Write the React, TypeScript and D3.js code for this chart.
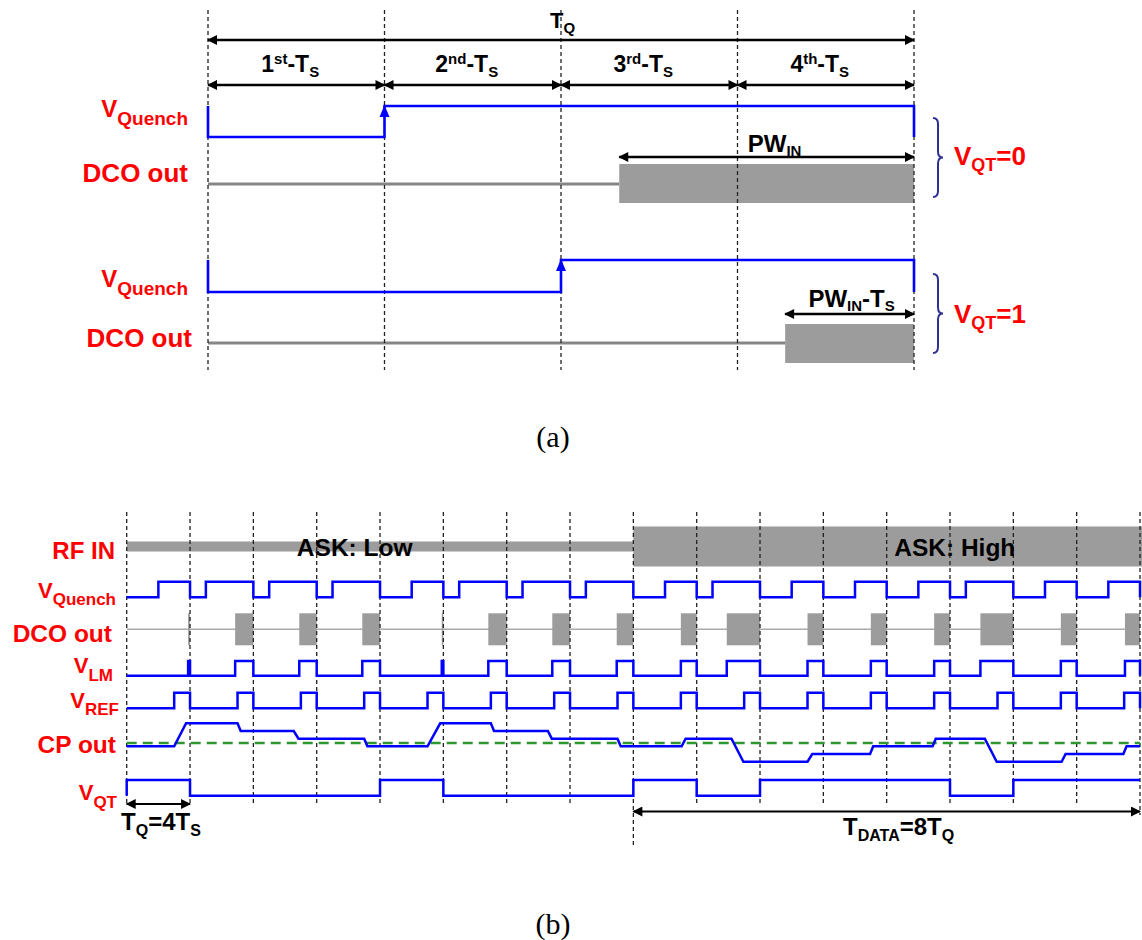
import React from 'react';
import * as d3 from 'd3';

// ---------------- DATA ----------------
// Part (a): one quench period T_Q = 4 T_S
const TS_ORDINALS = ['1', '2', '3', '4'];
const TS_SUFFIX = ['st', 'nd', 'rd', 'th'];
const A_QUENCH_RISE = [1, 2]; // T_S index at which V_Quench rises
const A_DCO_START = [2.33, 3.27]; // DCO oscillation start (T_S units)
const A_VQT = ['0', '1'];

// Part (b): 16 quench periods, time in T_S units (4 per period)
const B_VQT = [1, 0, 0, 0, 1, 0, 0, 0, 1, 0, 1, 1, 1, 0, 1, 1];
const B_QUENCH_LOW = [2, 1, 1, 1, 2, 1, 1, 1, 2, 1, 2, 2, 2, 1, 2, 2];
const B_DCO_WIDTH = [0.12, 1.15, 1.1, 1.12, 0.1, 1.16, 1.12, 1.05, 1.0, 2.1, 1.0, 1.0, 1.0, 2.08, 1.0, 0.95];
const B_VREF_WIDTH = [1, 1, 1, 1, 1, 1, 1, 1, 1, 1, 1, 1, 1, 1, 1, 1];
const B_ASK_LABEL = ['ASK: Low', 'ASK: High'];
const B_ASK_START = [0, 32];
const B_ASK_END = [32, 64];
const B_ASK_AMP = [0.25, 1];
const CP_T = [0, 3, 3.75, 7, 7.2, 10.55, 10.85, 15, 15.2, 19, 19.8, 23, 23.2, 26.6, 26.85, 31, 31.2, 35.05, 35.3, 38.2, 38.95, 43, 43.3, 46.95, 47.15, 50.9, 51.1, 54.2, 54.95, 59.05, 59.3, 62.95, 63.15, 64];
const CP_LEVEL = [0, 0, 3, 3, 2, 2, 1, 1, 0, 0, 3, 3, 2, 2, 1, 1, 0, 0, 1, 1, -2, -2, -1, -1, 0, 0, 1, 1, -2, -2, -1, -1, 0, 0];
const CP_REF = 0.45;

// ---------------- STYLE / LAYOUT ----------------
const W = 1142;
const H = 940;
const BLUE = '#0000ff';
const RED = '#ff0000';
const GRAY = '#9c9c9c';
const SANS = "Arial, 'Liberation Sans', Helvetica, sans-serif";
const SERIF = "'Times New Roman', 'Liberation Serif', serif";

const A_ROWS = [
  { qHi: 106, qLo: 137, dco: 184, blkTop: 164, blkBot: 203, arrow: 157, braceTop: 118, braceBot: 197, labQ: 117, labD: 182, labDx: 188, vqtY: 165, pwDx: 8, pwDy: -5 },
  { qHi: 260, qLo: 292, dco: 343, blkTop: 324, blkBot: 363, arrow: 314, braceTop: 274, braceBot: 353, labQ: 287, labD: 347, labDx: 192, vqtY: 323, pwDx: 2, pwDy: -7 },
];

const xA = d3.scaleLinear().domain([0, 4]).range([208, 914]);
const xB = d3.scaleLinear().domain([0, 64]).range([126.7, 1140]);
const yCP = d3.scaleLinear().domain([-2, 3]).range([761.7, 723.3]);

const RB = {
  rfMid: 546.5, rfHalf: 20,
  qHi: 581.7, qLo: 597.3,
  dcoMid: 629.3, dcoHalf: 16,
  lmHi: 661, lmLo: 675.7,
  refHi: 692.7, refLo: 708.3,
  qtHi: 780, qtLo: 795.7,
};

type Part = [string, number]; // 0 normal, 1 sub, 2 sup

function RT(props: {
  x: number; y: number; parts: Part[]; size: number; small: number;
  anchor?: string; fill?: string; subDy?: number; supDy?: number; family?: string; weight?: string;
}) {
  const { x, y, parts, size, small, anchor = 'start', fill = '#000', subDy = 6, supDy = -9, family = SANS, weight = 'bold' } = props;
  let cur = 0;
  return (
    <text x={x} y={y} textAnchor={anchor} fill={fill} fontFamily={family} fontWeight={weight} fontSize={size}>
      {parts.map((p, i) => {
        const target = p[1] === 1 ? subDy : p[1] === 2 ? supDy : 0;
        const dy = target - cur;
        cur = target;
        return (
          <tspan key={i} dy={dy} fontSize={p[1] ? small : size}>
            {p[0]}
          </tspan>
        );
      })}
    </text>
  );
}

function brace(x: number, top: number, bot: number) {
  const mid = (top + bot) / 2;
  const w = 10;
  const xm = x + w / 2;
  return `M${x},${top} Q${xm},${top} ${xm},${top + 6} L${xm},${mid - 6} Q${xm},${mid} ${x + w},${mid} Q${xm},${mid} ${xm},${mid + 6} L${xm},${bot - 6} Q${xm},${bot} ${x},${bot}`;
}

export default function App() {
  const lineA = d3.line<[number, number]>().x((d) => xA(d[0])).y((d) => d[1]);
  const lineB = d3.line<[number, number]>().x((d) => xB(d[0])).y((d) => d[1]);

  // Part (b) waveforms
  const quenchPts: [number, number][] = [];
  const lmPts: [number, number][] = [];
  const refPts: [number, number][] = [];
  const qtPts: [number, number][] = [[0, RB.qtLo]];
  B_QUENCH_LOW.forEach((q, k) => {
    const t0 = 4 * k;
    quenchPts.push([t0, RB.qLo], [t0 + q, RB.qLo], [t0 + q, RB.qHi], [t0 + 4, RB.qHi], [t0 + 4, RB.qLo]);
    const w = B_DCO_WIDTH[k];
    lmPts.push([t0, RB.lmLo], [t0 + 4 - w, RB.lmLo], [t0 + 4 - w, RB.lmHi], [t0 + 4, RB.lmHi], [t0 + 4, RB.lmLo]);
    const r = B_VREF_WIDTH[k];
    refPts.push([t0, RB.refLo], [t0 + 4 - r, RB.refLo], [t0 + 4 - r, RB.refHi], [t0 + 4, RB.refHi], [t0 + 4, RB.refLo]);
    const lv = B_VQT[k] ? RB.qtHi : RB.qtLo;
    qtPts.push([t0, lv], [t0 + 4, lv]);
  });
  const cpPts: [number, number][] = CP_T.map((t, i) => [t, yCP(CP_LEVEL[i])]);

  const periodsB = d3.range(0, 17);
  const askLabelAt = [14.4, 52.3];

  return (
    <svg width={W} height={H} style={{ position: 'absolute', left: 0, top: 0, background: '#fff' }}>
      <defs>
        <marker id="ah" viewBox="0 0 10 10" refX="9" refY="5" markerWidth="11" markerHeight="10" markerUnits="userSpaceOnUse" orient="auto-start-reverse">
          <path d="M0,0 L10,5 L0,10 z" fill="#000" />
        </marker>
      </defs>
      <rect x={0} y={0} width={W} height={H} fill="#fff" />

      {/* ================= PART (a) ================= */}
      {A_ROWS.map((r, c) => (
        <g key={'blk' + c}>
          <line x1={xA(0)} x2={xA(A_DCO_START[c])} y1={r.dco} y2={r.dco} stroke="#858585" strokeWidth={3} />
          <rect x={xA(A_DCO_START[c])} y={r.blkTop} width={xA(4) - xA(A_DCO_START[c])} height={r.blkBot - r.blkTop} fill={GRAY} />
        </g>
      ))}
      {d3.range(0, 5).map((i) => (
        <line key={'da' + i} x1={xA(i)} x2={xA(i)} y1={10} y2={370} stroke="#222" strokeWidth={1.3} strokeDasharray="4,3" />
      ))}
      {/* T_Q arrow */}
      <line x1={xA(0)} x2={xA(4)} y1={40} y2={40} stroke="#000" strokeWidth={2.5} markerStart="url(#ah)" markerEnd="url(#ah)" />
      <RT x={550} y={28} parts={[['T', 0], ['Q', 1]]} size={22} small={15} subDy={5} />
      {/* T_S arrows */}
      {TS_ORDINALS.map((o, i) => (
        <g key={'ts' + i}>
          <line x1={xA(i)} x2={xA(i + 1)} y1={85} y2={85} stroke="#000" strokeWidth={2.5} markerStart="url(#ah)" markerEnd="url(#ah)" />
          <RT
            x={(xA(i) + xA(i + 1)) / 2 - 6}
            y={72}
            anchor="middle"
            parts={[[o, 0], [TS_SUFFIX[i], 2], ['-T', 0], ['S', 1]]}
            size={23}
            small={15}
            subDy={5}
            supDy={-8}
          />
        </g>
      ))}
      {A_ROWS.map((r, c) => {
        const rise = A_QUENCH_RISE[c];
        const pts: [number, number][] = [[0, r.qHi], [0, r.qLo], [rise, r.qLo], [rise, r.qHi], [4, r.qHi], [4, r.qLo]];
        const ax = xA(rise);
        const s = xA(A_DCO_START[c]);
        const e = xA(4);
        return (
          <g key={'case' + c}>
            <path d={lineA(pts) || ''} fill="none" stroke={BLUE} strokeWidth={2.6} />
            <polygon points={`${ax},${r.qHi - 1} ${ax - 5},${r.qHi + 11} ${ax + 5},${r.qHi + 11}`} fill={BLUE} />
            <line x1={s} x2={e} y1={r.arrow} y2={r.arrow} stroke="#000" strokeWidth={2.5} markerStart="url(#ah)" markerEnd="url(#ah)" />
            <RT
              x={(s + e) / 2 + r.pwDx}
              y={r.arrow + r.pwDy}
              anchor="middle"
              parts={c === 0 ? [['PW', 0], ['IN', 1]] : [['PW', 0], ['IN', 1], ['-T', 0], ['S', 1]]}
              size={24}
              small={15}
              subDy={4}
            />
            <RT x={188} y={r.labQ} anchor="end" fill={RED} parts={[['V', 0], ['Quench', 1]]} size={24} small={19} subDy={8} />
            <text x={r.labDx} y={r.labD} textAnchor="end" fill={RED} fontFamily={SANS} fontWeight="bold" fontSize={26}>
              DCO out
            </text>
            <path d={brace(933, r.braceTop, r.braceBot)} fill="none" stroke="#2e3192" strokeWidth={2} />
            <RT x={954} y={r.vqtY} fill={RED} parts={[['V', 0], ['QT', 1], ['=' + A_VQT[c], 0]]} size={26} small={18} subDy={6} />
          </g>
        );
      })}
      <text x={553} y={447} textAnchor="middle" fontFamily={SERIF} fontSize={30} fill="#000">
        (a)
      </text>

      {/* ================= PART (b) ================= */}
      {B_ASK_LABEL.map((l, i) => (
        <rect
          key={'rf' + i}
          x={xB(B_ASK_START[i])}
          y={RB.rfMid - RB.rfHalf * B_ASK_AMP[i]}
          width={xB(B_ASK_END[i]) - xB(B_ASK_START[i]) + (i === 1 ? 2 : 0)}
          height={2 * RB.rfHalf * B_ASK_AMP[i]}
          fill={GRAY}
        />
      ))}
      <line x1={xB(0)} x2={xB(64)} y1={RB.dcoMid} y2={RB.dcoMid} stroke="#aaa" strokeWidth={1.5} />
      {B_DCO_WIDTH.map((w, k) => (
        <rect key={'dco' + k} x={xB(4 * k + 4 - w)} y={RB.dcoMid - RB.dcoHalf} width={xB(4 * k + 4) - xB(4 * k + 4 - w)} height={2 * RB.dcoHalf} fill={GRAY} />
      ))}
      {periodsB.map((k) => {
        const t = 4 * k;
        const bottom = t === 32 ? 845 : t === 64 ? 815 : 805;
        return <line key={'db' + k} x1={xB(t)} x2={xB(t)} y1={512} y2={bottom} stroke="#222" strokeWidth={1.3} strokeDasharray="4,3" />;
      })}
      <line x1={xB(0)} x2={xB(64)} y1={yCP(CP_REF)} y2={yCP(CP_REF)} stroke="#2f972f" strokeWidth={2.5} strokeDasharray="10,6" />
      <path d={lineB(quenchPts) || ''} fill="none" stroke={BLUE} strokeWidth={2.5} />
      <path d={lineB(lmPts) || ''} fill="none" stroke={BLUE} strokeWidth={2.5} />
      <path d={lineB(refPts) || ''} fill="none" stroke={BLUE} strokeWidth={2.5} />
      <path d={lineB(cpPts) || ''} fill="none" stroke={BLUE} strokeWidth={2.5} />
      <path d={lineB(qtPts) || ''} fill="none" stroke={BLUE} strokeWidth={2.5} />

      {B_ASK_LABEL.map((l, i) => (
        <text key={'askl' + i} x={xB(askLabelAt[i])} y={556} textAnchor="middle" fontFamily={SANS} fontWeight="bold" fontSize={24.5} fill="#000">
          {l}
        </text>
      ))}

      {/* labels */}
      <text x={115} y={559} textAnchor="end" fill={RED} fontFamily={SANS} fontWeight="bold" fontSize={24}>RF IN</text>
      <RT x={116} y={598} anchor="end" fill={RED} parts={[['V', 0], ['Quench', 1]]} size={22} small={17} subDy={7} />
      <text x={112} y={641.7} textAnchor="end" fill={RED} fontFamily={SANS} fontWeight="bold" fontSize={24.5}>DCO out</text>
      <RT x={113} y={673} anchor="end" fill={RED} parts={[['V', 0], ['LM', 1]]} size={22} small={17} subDy={8} />
      <RT x={119} y={707.7} anchor="end" fill={RED} parts={[['V', 0], ['REF', 1]]} size={22} small={17} subDy={7} />
      <text x={116} y={752.7} textAnchor="end" fill={RED} fontFamily={SANS} fontWeight="bold" fontSize={24.5}>CP out</text>
      <RT x={117} y={800} anchor="end" fill={RED} parts={[['V', 0], ['QT', 1]]} size={22} small={17} subDy={8} />

      {/* T_Q and T_DATA arrows */}
      <line x1={xB(0)} x2={xB(4)} y1={804} y2={804} stroke="#000" strokeWidth={2.2} markerStart="url(#ah)" markerEnd="url(#ah)" />
      <RT x={121} y={830} parts={[['T', 0], ['Q', 1], ['=4T', 0], ['S', 1]]} size={24} small={16} subDy={6} />
      <line x1={xB(32)} x2={xB(64)} y1={811.5} y2={811.5} stroke="#000" strokeWidth={2.2} markerStart="url(#ah)" markerEnd="url(#ah)" />
      <RT x={843} y={835} parts={[['T', 0], ['DATA', 1], ['=8T', 0], ['Q', 1]]} size={24} small={16} subDy={6} />

      <text x={553} y={934} textAnchor="middle" fontFamily={SERIF} fontSize={30} fill="#000">
        (b)
      </text>
    </svg>
  );
}
